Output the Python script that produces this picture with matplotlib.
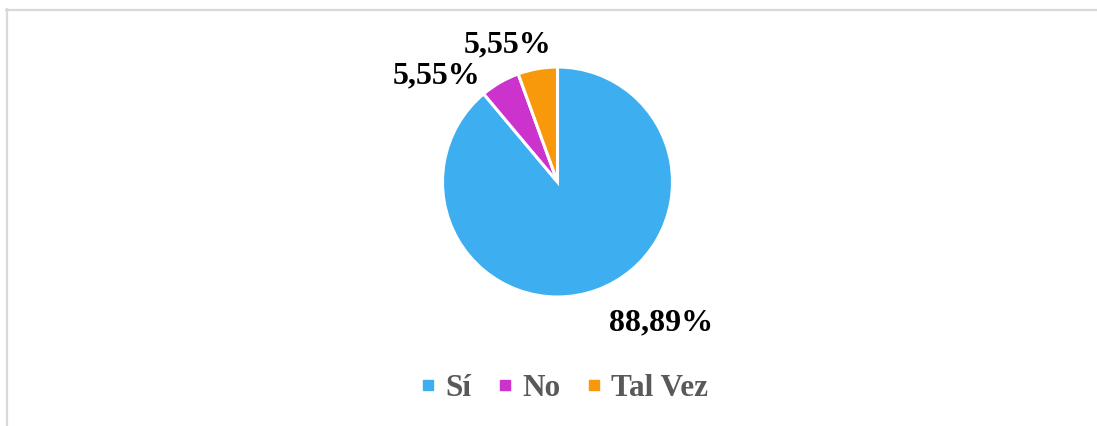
import matplotlib
matplotlib.use("Agg")
import matplotlib.pyplot as plt
from matplotlib.lines import Line2D

categories = ["Sí", "No", "Tal Vez"]
values = [88.89, 5.55, 5.55]
colors = ["#3daef0", "#cc33cc", "#f7990a"]

W, H = 1097, 427
fig = plt.figure(figsize=(W / 100, H / 100), dpi=100)
fig.patch.set_facecolor("white")

# light frame along top and left edges
fig.add_artist(Line2D([6 / W, 1.0], [1 - 10.5 / H] * 2, color="#d9d9d9", lw=1.6,
                      transform=fig.transFigure))
fig.add_artist(Line2D([6.5 / W] * 2, [0.0, 1 - 10 / H], color="#d9d9d9", lw=1.6,
                      transform=fig.transFigure))

cx, cy, r = 557.5, 183, 115
ax = fig.add_axes([(cx - r) / W, (H - cy - r) / H, 2 * r / W, 2 * r / H])
wedges, _ = ax.pie(values, colors=colors, startangle=90, counterclock=False,
                   radius=1, wedgeprops=dict(edgecolor="white", linewidth=2.2))
ax.set_xlim(-1, 1)
ax.set_ylim(-1, 1)
ax.set_aspect("equal")
ax.axis("off")

label_pos = [(0.90, -1.22), (-1.05, 0.93), (-0.43, 1.20)]
for v, (lx, ly) in zip(values, label_pos):
    txt = f"{v:.2f}".replace(".", ",") + "%"
    ax.text(lx, ly, txt, ha="center", va="center", fontsize=23,
            fontweight="bold", family="Liberation Serif", color="black",
            clip_on=False)

handles = [Line2D([], [], marker="s", linestyle="none", markersize=6.5,
                  markerfacecolor=c, markeredgecolor=c) for c in colors]
leg = fig.legend(handles, categories, loc="center", bbox_to_anchor=(563.5 / W, 1 - 389 / H),
                 ncol=3, frameon=False, handlelength=0.6, handletextpad=0.27,
                 columnspacing=0.75, borderpad=0, borderaxespad=0,
                 prop=dict(family="Liberation Serif", weight="bold", size=22.5))
for t in leg.get_texts():
    t.set_color("#595959")

fig.savefig("out.png", dpi=100, facecolor="white")
